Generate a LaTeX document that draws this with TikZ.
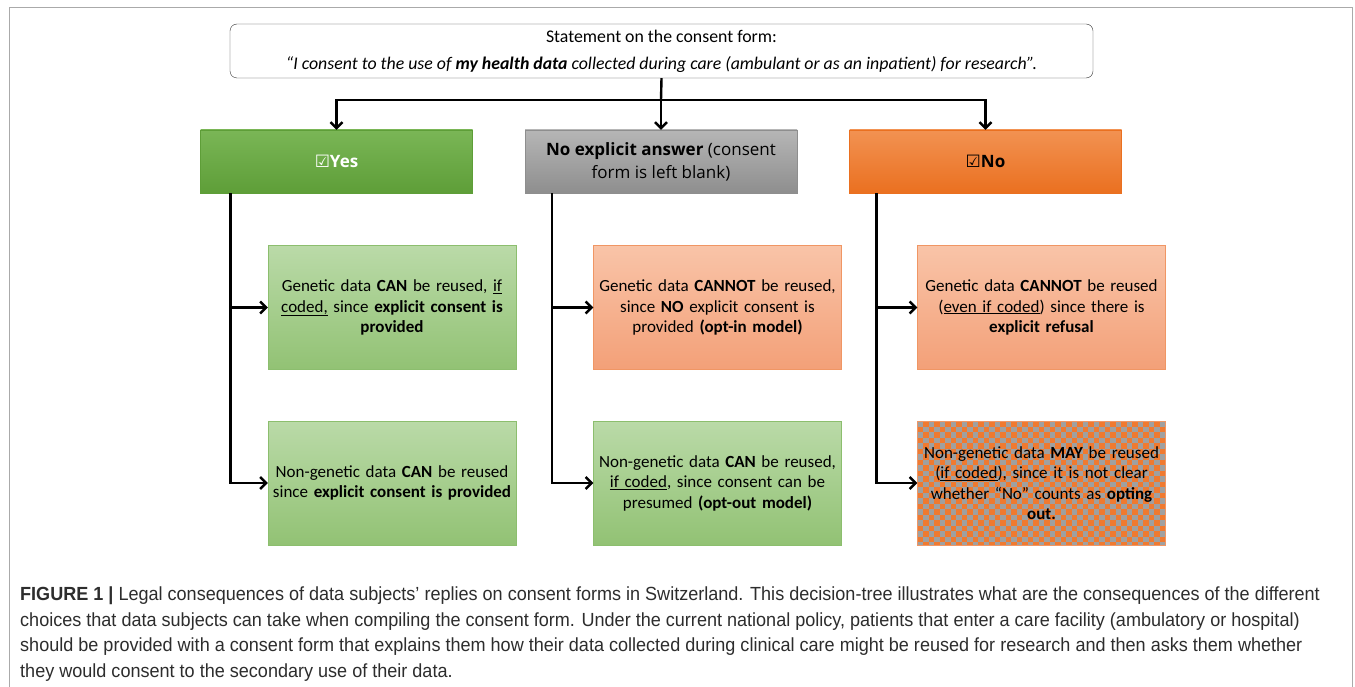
\documentclass[tikz,border=0pt]{standalone}
\usepackage{fontspec}
\setmainfont{Carlito}
\newfontfamily\headfont{Open Sans}
\newfontfamily\symfont{DejaVu Sans}
\newfontfamily\capfont[FakeStretch=0.95]{Liberation Sans}
\usetikzlibrary{arrows.meta}

\definecolor{yesdark}{RGB}{122,182,86}
\definecolor{yesdeep}{RGB}{94,158,56}
\definecolor{greydark}{RGB}{182,182,182}
\definecolor{greydeep}{RGB}{142,142,142}
\definecolor{nodark}{RGB}{242,146,82}
\definecolor{nodeep}{RGB}{234,112,32}
\definecolor{greenlite}{RGB}{186,218,168}
\definecolor{greenmid}{RGB}{146,194,116}
\definecolor{greenline}{RGB}{140,190,110}
\definecolor{orangelite}{RGB}{249,196,168}
\definecolor{orangemid}{RGB}{243,160,120}
\definecolor{orangeline}{RGB}{240,150,100}
\definecolor{checkorange}{RGB}{240,122,48}
\definecolor{checkgrey}{RGB}{160,160,160}
\definecolor{frameline}{RGB}{170,170,170}
\definecolor{captext}{RGB}{45,45,45}

\tikzset{
  head/.style={minimum width=272, minimum height=63, inner sep=0, align=center,
    font=\headfont\fontsize{17}{23}\selectfont},
  outcome/.style={minimum width=248, minimum height=124, inner sep=0, align=center,
    text width=246, font=\fontsize{17}{20.5}\selectfont},
  greenbox/.style={outcome, draw=greenline, top color=greenlite, bottom color=greenmid},
  orangebox/.style={outcome, draw=orangeline, top color=orangelite, bottom color=orangemid},
  conn/.style={line width=2.4pt, black},
  arr/.style={conn, -{Straight Barb[length=6pt, width=12pt]}}
}

\begin{document}
\begin{tikzpicture}[x=1pt, y=-1pt]
\useasboundingbox (0,0) rectangle (1355,687);
\fill[white] (0,0) rectangle (1355,687);
% frame round the figure
\draw[frameline, line width=1pt] (9,690) -- (9,8) -- (1352,8) -- (1352,690);

% statement
\node[draw=black!80, rounded corners=7, minimum width=863, minimum height=54, align=center,
  font=\fontsize{17.8}{27}\selectfont] (stmt) at (661.5,51)
  {Statement on the consent form:\\
   \textit{“I consent to the use of \textbf{my health data} collected during care (ambulant or as an inpatient) for research”.}};

% the three answers
\node[head, draw=yesdeep, top color=yesdark, bottom color=yesdeep, text=white] (yes) at (336.5,161.5)
  {\textbf{{\symfont ☑}Yes}};
\node[head, draw=greydeep, top color=greydark, bottom color=greydeep] (blank) at (661,161.5)
  {\textbf{No explicit answer} (consent\\form is left blank)};
\node[head, draw=nodeep, top color=nodark, bottom color=nodeep] (no) at (985.5,161.5)
  {\textbf{{\symfont ☑}No}};

% consequences, genetic data
\node[greenbox] (yesgen) at (392,307.5)
  {Genetic data \textbf{CAN} be reused, \underline{if}\\\underline{coded,} since \textbf{explicit consent is}\\\textbf{provided}};
\node[orangebox] (blankgen) at (717.5,307.5)
  {Genetic data \textbf{CANNOT} be reused,\\since \textbf{NO} explicit consent is\\provided \textbf{(opt-in model)}};
\node[orangebox] (nogen) at (1041.5,307.5)
  {Genetic data \textbf{CANNOT} be reused\\(\underline{even if coded}) since there is\\\textbf{explicit refusal}};

% consequences, non-genetic data
\node[greenbox] (yesnon) at (392,483)
  {Non-genetic data \textbf{CAN} be reused\\since \textbf{explicit consent is provided}};
\node[greenbox] (blanknon) at (717.5,483)
  {Non-genetic data \textbf{CAN} be reused,\\\underline{if coded}, since consent can be\\presumed \textbf{(opt-out model)}};
% checked box: orange and grey squares under the text
\begin{scope}
  \clip (917.5,421) rectangle (1165.5,545);
  \fill[checkorange] (917.5,421) rectangle (1165.5,545);
  \foreach \i in {0,...,45}
    \foreach \j in {0,...,11}
      \fill[checkgrey] ({917.5+5.5*\i},{421+11*\j+5.5*mod(\i,2)}) rectangle ++(5.5,5.5);
\end{scope}
\node[outcome, draw=orangeline] (nonon) at (1041.5,483)
  {Non-genetic data \textbf{MAY} be reused\\(\underline{if coded}), since it is not clear\\whether “No” counts as \textbf{opting}\\\textbf{out.}};

% tree
\coordinate (split) at (661,100);
\coordinate (yestrunk) at ([xshift=30]yes.south west);
\coordinate (blanktrunk) at ([xshift=27]blank.south west);
\coordinate (notrunk) at ([xshift=27]no.south west);
\draw[conn] (stmt.south) -- (split);
\draw[arr] (split) -| (yes.north);
\draw[arr] (split) -- (blank.north);
\draw[arr] (split) -| (no.north);
\draw[arr] (yestrunk) |- (yesgen.west);
\draw[arr] (yestrunk) |- (yesnon.west);
\draw[arr] (blanktrunk) |- (blankgen.west);
\draw[arr] (blanktrunk) |- (blanknon.west);
\draw[arr] (notrunk) |- (nogen.west);
\draw[arr] (notrunk) |- (nonon.west);

% caption
\node[anchor=north west, align=left, inner sep=0, text=captext,
  font=\capfont\fontsize{19}{25.4}\selectfont] (cap) at (20,587)
  {\textbf{FIGURE 1 |} Legal consequences of data subjects’ replies on consent forms in Switzerland. This decision-tree illustrates what are the consequences of the different\\
   choices that data subjects can take when compiling the consent form. Under the current national policy, patients that enter a care facility (ambulatory or hospital)\\
   should be provided with a consent form that explains them how their data collected during clinical care might be reused for research and then asks them whether\\
   they would consent to the secondary use of their data.};
\end{tikzpicture}
\end{document}
